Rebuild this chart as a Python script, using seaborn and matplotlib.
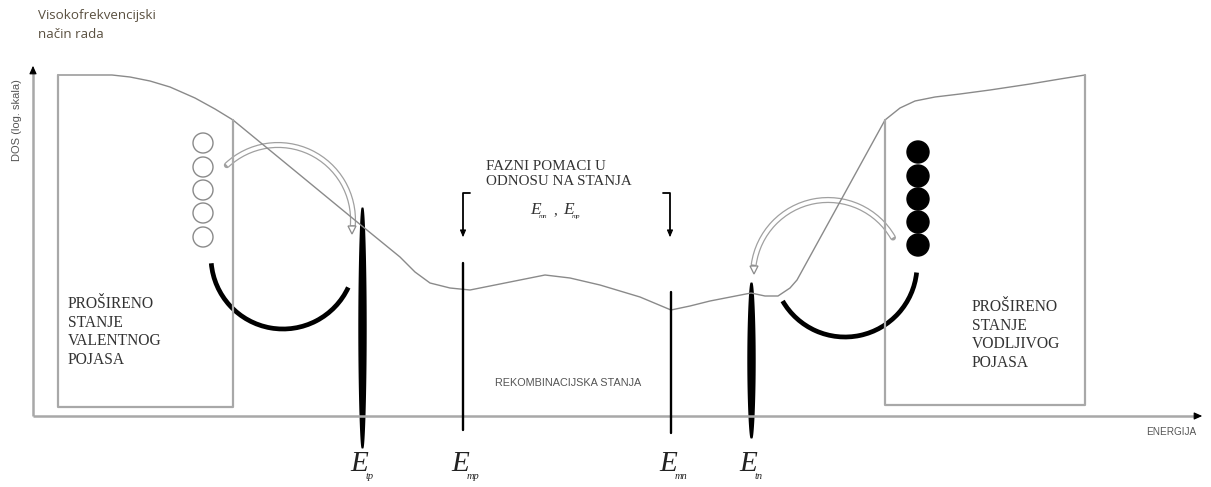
import numpy as np
import pandas as pd
import matplotlib
matplotlib.use("Agg")
import matplotlib.pyplot as plt
import seaborn as sns
from matplotlib.patches import Arc, Circle, Polygon

# ---------------- data ----------------
# DOS curve (energy, log-DOS) in drawing units
dos_x = [58, 112, 130, 150, 170, 195, 215, 233, 300, 362, 400, 415, 430, 450, 470, 490, 510, 545, 570, 600, 640, 671, 690, 710, 751, 765, 778, 790, 797,
         885, 900, 915, 935, 960, 990, 1030, 1060, 1085]
dos_y = [75, 75, 77, 81, 87, 98, 109, 120, 175, 226, 257, 272, 283, 288, 290, 286, 282, 275, 278, 285, 297, 310, 306, 301, 293, 296, 296, 288, 280,
         120, 108, 101, 97, 94, 90, 84, 79, 75]

# characteristic energy levels
level_names = ["tp", "mp", "mn", "tn"]
level_x = [362, 463, 671, 751]
level_top = [207, 263, 292, 282]
level_bottom = [448, 430, 433, 438]
level_thick = [True, False, False, True]

# empty (holes) and filled (electrons) states
hole_x = [203, 203, 203, 203, 203]
hole_y = [143, 167, 190, 213, 237]
elec_x = [918, 918, 918, 918, 918]
elec_y = [152, 176, 199, 222, 245]

# ---------------- figure ----------------
sns.set_theme(style="white")
plt.rcParams['font.family'] = ['DejaVu Sans']
fig = plt.figure(figsize=(12.11, 4.87), dpi=100)
ax = fig.add_axes([0, 0, 1, 1])

gray = "#9a9a9a"
boxgray = "#a8a8a8"

# DOS curve
df = pd.DataFrame({"E": dos_x, "DOS": dos_y})
sns.lineplot(data=df, x="E", y="DOS", sort=False, ax=ax, color="#8a8a8a", lw=1.0)
ax.set_xlim(0, 1211)
ax.set_ylim(487, 0)
ax.axis("off")

# axes with arrows
ax.plot([33, 33], [416, 70], color=boxgray, lw=1.8, solid_capstyle="butt")
ax.plot([33, 1198], [416, 416], color=boxgray, lw=1.8, solid_capstyle="butt")
ax.annotate("", xy=(33, 63), xytext=(33, 72),
            arrowprops=dict(arrowstyle="-|>,head_width=0.18,head_length=0.4", color="black", lw=0.8))
ax.annotate("", xy=(1205, 416), xytext=(1196, 416),
            arrowprops=dict(arrowstyle="-|>,head_width=0.18,head_length=0.4", color="black", lw=0.8))

# band boxes
ax.plot([58, 58, 233, 233], [75, 407, 407, 120], color=boxgray, lw=1.6)
ax.plot([885, 885, 1085, 1085], [120, 405, 405, 75], color=boxgray, lw=1.6)

# energy levels
for name, x, t, b, thick in zip(level_names, level_x, level_top, level_bottom, level_thick):
    if thick:
        yy = np.linspace(t, b, 200)
        s = (yy - t) / (b - t)
        hw = 0.8 + 3.4 * np.sin(np.pi * s) ** 0.5
        ax.fill_betweenx(yy, x - hw, x + hw, color="black", lw=0)
    else:
        ax.plot([x, x], [t, b], color="black", lw=1.7)
    ax.text(x - 12, 471, "E", family="Liberation Serif", style="italic",
            fontsize=21, color="#222", ha="left", va="baseline")
    ax.text(x + 4, 479, name, family="Liberation Serif", style="italic",
            fontsize=7.5, color="#222", ha="left", va="baseline")

# circles
for cx, cy in zip(hole_x, hole_y):
    ax.add_patch(Circle((cx, cy), 10, fc="white", ec="#8a8a8a", lw=1.0))
for cx, cy in zip(elec_x, elec_y):
    ax.add_patch(Circle((cx, cy), 11, fc="black", ec="black", lw=1.0))

# black transition arcs
ax.add_patch(Arc((283, 257), 144, 144, theta1=25, theta2=175, color="black", lw=3.4))
ax.add_patch(Arc((845, 265), 144, 144, theta1=6, theta2=150, color="black", lw=3.4))

# hollow gray arrows
def hollow_arc(c, r, t1, t2, tip, direction):
    ax.add_patch(Arc(c, 2 * r, 2 * r, theta1=t1, theta2=t2, color="#a0a0a0", lw=4.4, capstyle="round"))
    ax.add_patch(Arc(c, 2 * r, 2 * r, theta1=t1, theta2=t2, color="white", lw=2.6))
    tx, ty = tip
    d = direction
    ax.add_patch(Polygon([(tx - 4, ty - 5 * d), (tx + 4, ty - 5 * d), (tx, ty + 3 * d)],
                         closed=True, fc="white", ec="#8a8a8a", lw=0.9))

hollow_arc((278, 220), 75, -133, 4, (352, 231), 1)
hollow_arc((828, 275), 75, -172, -30, (754, 271), 1)

# brackets
for x, dx in [(463, 7), (670, -7)]:
    ax.plot([x + dx, x, x], [193, 193, 232], color="black", lw=1.3)
    ax.annotate("", xy=(x, 240), xytext=(x, 230),
                arrowprops=dict(arrowstyle="-|>,head_width=0.15,head_length=0.35", color="black", lw=0.8))

serif = "Liberation Serif"
txtc = "#333333"
ax.text(486, 160, "FAZNI POMACI U\nODNOSU NA STANJA", family=serif, fontsize=10.8,
        color=txtc, ha="left", va="top", linespacing=1.2)
ax.text(530, 214, "E", family=serif, style="italic", fontsize=12.5, color=txtc, va="baseline")
ax.text(539, 218, "mn", family=serif, style="italic", fontsize=5, color=txtc, va="baseline")
ax.text(553, 214, ",", family=serif, fontsize=11, color=txtc, va="baseline")
ax.text(563, 214, "E", family=serif, style="italic", fontsize=12.5, color=txtc, va="baseline")
ax.text(572, 218, "mp", family=serif, style="italic", fontsize=5, color=txtc, va="baseline")

ax.text(68, 296, "PROŠIRENO\nSTANJE\nVALENTNOG\nPOJASA", family=serif, fontsize=11.2,
        color=txtc, ha="left", va="top", linespacing=1.22)
ax.text(972, 299, "PROŠIRENO\nSTANJE\nVODLJIVOG\nPOJASA", family=serif, fontsize=11.2,
        color=txtc, ha="left", va="top", linespacing=1.22)

ax.text(568, 383, "REKOMBINACIJSKA STANJA", family="Liberation Sans", fontsize=7.8,
        color="#555", ha="center", va="center")
ax.text(1171, 432, "ENERGIJA", family="Liberation Sans", fontsize=7.2,
        color="#555", ha="center", va="center")
ax.text(38, 9, "Visokofrekvencijski\nnačin rada", family="Open Sans", fontsize=9.6,
        color="#5a5040", ha="left", va="top", linespacing=1.6)
ax.text(17, 120, "DOS (log. skala)", family="Liberation Sans", fontsize=8,
        color="#555", rotation=90, ha="center", va="center")

fig.savefig("out.png", dpi=100)
